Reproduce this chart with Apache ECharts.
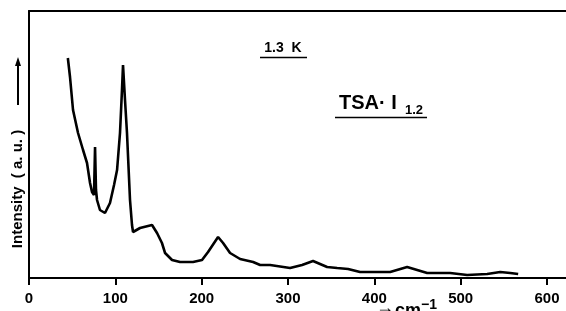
<!DOCTYPE html>
<html>
<head>
<meta charset="utf-8">
<script src="https://cdn.jsdelivr.net/npm/echarts@6/dist/echarts.min.js"></script>
<style>
  html, body { margin: 0; padding: 0; background: #fff; }
  #main { width: 566px; height: 311px; }
</style>
</head>
<body>
<div id="main"></div>
<script>
// wavenumber (cm-1) and intensity (a.u.)
var wavenumber = [45, 47.5, 51, 56.8, 62.6, 64.9, 67.2, 70.7, 73, 75.3, 76.5, 77.6, 78.8, 82.2, 88, 93.8, 98.5, 102, 105.4, 107.7, 108.9, 111.2, 113.5, 117, 119.3, 120.5, 128.6, 142.5, 148.3, 154, 157.6, 165.7, 175, 190, 200.4, 207.4, 219, 224.8, 232.9, 244.5, 259.6, 267.7, 279.3, 302.4, 316.3, 329, 345.3, 356.9, 369.6, 383.5, 418.3, 438, 461.2, 487.8, 507.5, 530.7, 545.8, 557.4, 566.6];
var intensity = [220, 201, 168, 145, 128, 130, 115, 95, 86, 83, 131, 88, 78, 68, 65, 75, 93, 108, 145, 188, 213, 178, 145, 78, 53, 46, 50, 53, 45, 35, 25, 18, 16, 16, 18, 26, 41, 35, 25, 19, 16, 13, 13, 10, 13, 17, 11, 10, 9, 6, 6, 11, 5, 5, 3, 4, 6, 5, 4];
var xTicks = [0, 100, 200, 300, 400, 500, 600];

var myChart = echarts.init(document.getElementById('main'));

var points = [];
for (var i = 0; i < wavenumber.length; i++) {
  points.push([wavenumber[i], intensity[i]]);
}

var bold = 'bold';
var ff = 'Liberation Sans, Arial, sans-serif';

option = {
  animation: false,
  grid: { left: 29, top: 11, right: 0, bottom: 33 },
  xAxis: [
    {
      type: 'value',
      min: 0,
      max: 622,
      interval: 100,
      splitLine: { show: false },
      axisLine: { lineStyle: { color: '#000', width: 2 } },
      axisTick: { inside: false, length: 7, lineStyle: { color: '#000', width: 2 } },
      axisLabel: {
        color: '#000', fontSize: 15, fontWeight: bold, fontFamily: ff, margin: 13,
        showMaxLabel: false,
        formatter: function (v) { return xTicks.indexOf(v) >= 0 ? String(v) : ''; }
      }
    },
    {
      type: 'value',
      position: 'top',
      min: 0,
      max: 622,
      axisLine: { show: true, onZero: false, lineStyle: { color: '#000', width: 2 } },
      axisTick: { show: false },
      axisLabel: { show: false },
      splitLine: { show: false }
    }
  ],
  yAxis: {
    type: 'value',
    min: 0,
    max: 267,
    axisLine: { show: true, lineStyle: { color: '#000', width: 2 } },
    axisTick: { show: false },
    axisLabel: { show: false },
    splitLine: { show: false }
  },
  series: [
    {
      type: 'line',
      data: points,
      showSymbol: false,
      lineStyle: { color: '#000', width: 2.6 }
    }
  ],
  graphic: [
    // y axis label and arrow
    { type: 'text', x: 18, y: 189, rotation: Math.PI / 2,
      style: { text: 'Intensity  ( a. u. )', fontSize: 15, fontWeight: bold, fontFamily: ff,
               fill: '#000', align: 'center', verticalAlign: 'middle' } },
    { type: 'line', shape: { x1: 18, y1: 64, x2: 18, y2: 105 }, style: { stroke: '#000', lineWidth: 2 } },
    { type: 'polygon', shape: { points: [[18, 57], [15, 66], [21, 66]] }, style: { fill: '#000' } },
    // labels in the plot
    { type: 'text', x: 283, y: 48,
      style: { text: '1.3  K', fontSize: 14, fontWeight: bold, fontFamily: ff,
               fill: '#000', align: 'center', verticalAlign: 'middle' } },
    { type: 'line', shape: { x1: 260, y1: 57.5, x2: 307, y2: 57.5 }, style: { stroke: '#000', lineWidth: 1.5 } },
    { type: 'text', x: 339, y: 103,
      style: { text: 'TSA· I', fontSize: 20, fontWeight: bold, fontFamily: ff,
               fill: '#000', align: 'left', verticalAlign: 'middle' } },
    { type: 'text', x: 405, y: 110,
      style: { text: '1.2', fontSize: 13, fontWeight: bold, fontFamily: ff,
               fill: '#000', align: 'left', verticalAlign: 'middle' } },
    { type: 'line', shape: { x1: 335, y1: 117.5, x2: 427, y2: 117.5 }, style: { stroke: '#000', lineWidth: 1.5 } },
    // x axis name (cut at the bottom edge)
    { type: 'text', x: 394, y: 308,
      style: { text: '→', fontSize: 18, fontWeight: bold, fontFamily: ff,
               fill: '#000', align: 'right', verticalAlign: 'middle' } },
    { type: 'text', x: 395, y: 311,
      style: { text: 'cm', fontSize: 18, fontWeight: bold, fontFamily: ff,
               fill: '#000', align: 'left', verticalAlign: 'middle' } },
    { type: 'text', x: 421, y: 305,
      style: { text: '−1', fontSize: 14, fontWeight: bold, fontFamily: ff,
               fill: '#000', align: 'left', verticalAlign: 'middle' } }
  ]
};

myChart.setOption(option);
</script>
</body>
</html>
